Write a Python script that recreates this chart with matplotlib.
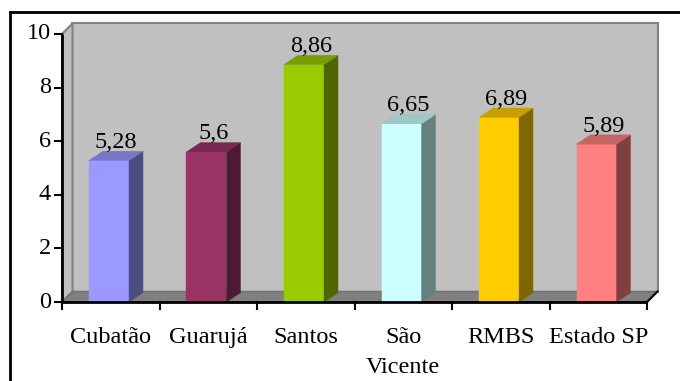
import numpy as np
import matplotlib
matplotlib.use("Agg")
import matplotlib.pyplot as plt
from matplotlib.patches import Polygon
from matplotlib.lines import Line2D
import matplotlib.colors as mcolors

categories = ["Cubatão", "Guarujá", "Santos", "São\nVicente", "RMBS", "Estado SP"]
values = [5.28, 5.6, 8.86, 6.65, 6.89, 5.89]
value_labels = ["5,28", "5,6", "8,86", "6,65", "6,89", "5,89"]
colors = ["#9999FF", "#993366", "#99CC00", "#CCFFFF", "#FFCC00", "#FF8080"]
yticks = [0, 2, 4, 6, 8, 10]

plt.rcParams['font.family'] = ['Liberation Serif', 'DejaVu Serif']
FS = 17.5

W, H = 680, 381
fig = plt.figure(figsize=(W / 100, H / 100), dpi=100)
ax = fig.add_axes([0, 0, 1, 1])

# pixel layout -> data scale (category units, value units)
x0_px, y0_px = 62, 79          # origin of the plot (from left / from bottom)
px_cat, px_val = 97.5, 26.8
ax.set_xlim(-x0_px / px_cat, (W - x0_px) / px_cat)
ax.set_ylim(-y0_px / px_val, (H - y0_px) / px_val)
ax.axis("off")

n = len(categories)
ymax = 10
wdx, wdy = 10.5 / px_cat, 10.5 / px_val      # wall depth
bl, bw = 27 / px_cat, 40 / px_cat            # bar offset / width
bdx, bdy = 14 / px_cat, 9.3 / px_val         # bar depth

wall = "#C0C0C0"
edge = "#808080"

# back wall
ax.add_patch(Polygon([(wdx, wdy), (n + wdx, wdy), (n + wdx, ymax + wdy), (wdx, ymax + wdy)],
                     closed=True, fc=wall, ec=edge, lw=1.5, zorder=1))
# left wall
ax.add_patch(Polygon([(0, 0), (wdx, wdy), (wdx, ymax + wdy), (0, ymax)],
                     closed=True, fc=wall, ec=edge, lw=1.5, zorder=1))
# floor
ax.add_patch(Polygon([(0, 0), (n, 0), (n + wdx, wdy), (wdx, wdy)],
                     closed=True, fc="#808080", ec="#707070", lw=1, zorder=2))

# bars
for i, (v, c) in enumerate(zip(values, colors)):
    rgb = np.array(mcolors.to_rgb(c))
    top = rgb * 0.78
    side = rgb * 0.5
    xl = i + bl
    xr = xl + bw
    ax.add_patch(Polygon([(xl, 0), (xr, 0), (xr, v), (xl, v)], closed=True,
                         fc=rgb, ec=rgb, lw=0.3, zorder=3))
    ax.add_patch(Polygon([(xr, 0), (xr + bdx, bdy), (xr + bdx, v + bdy), (xr, v)], closed=True,
                         fc=side, ec=side, lw=0.3, zorder=3))
    ax.add_patch(Polygon([(xl, v), (xr, v), (xr + bdx, v + bdy), (xl + bdx, v + bdy)], closed=True,
                         fc=top, ec=top, lw=0.3, zorder=3))
    ax.text(xl + (bw + bdx) / 2, v + bdy + 0.12, value_labels[i], ha="center", va="baseline",
            fontsize=FS, zorder=5)

# axes lines
ax.plot([0, 0], [0, ymax], color="black", lw=2, zorder=4, solid_capstyle="butt")
ax.plot([0, n], [0, 0], color="black", lw=2, zorder=4, solid_capstyle="butt")
ax.plot([n, n + wdx], [0, wdy], color="black", lw=1.5, zorder=4)
tk_x = 7 / px_cat
tk_y = 7 / px_val
for t in yticks:
    ax.plot([-tk_x, 0], [t, t], color="black", lw=1.5, zorder=4)
    ax.text(-tk_x - 4 / px_cat, t, str(t), ha="right", va="center", fontsize=FS)
for i in range(n + 1):
    ax.plot([i, i], [0, -tk_y], color="black", lw=1.5, zorder=4)
for i, lab in enumerate(categories):
    ax.text(i + 0.5, -25 / px_val, lab, ha="center", va="top", fontsize=FS, linespacing=1.55)

# outer frame (left and top edges visible)
ax.add_line(Line2D([10 / W, 10 / W], [0, 1 - 12 / H], transform=ax.transAxes, color="black", lw=2))
ax.add_line(Line2D([10 / W, 1], [1 - 12 / H, 1 - 12 / H], transform=ax.transAxes, color="black", lw=2))

fig.savefig("out.png", dpi=100)
